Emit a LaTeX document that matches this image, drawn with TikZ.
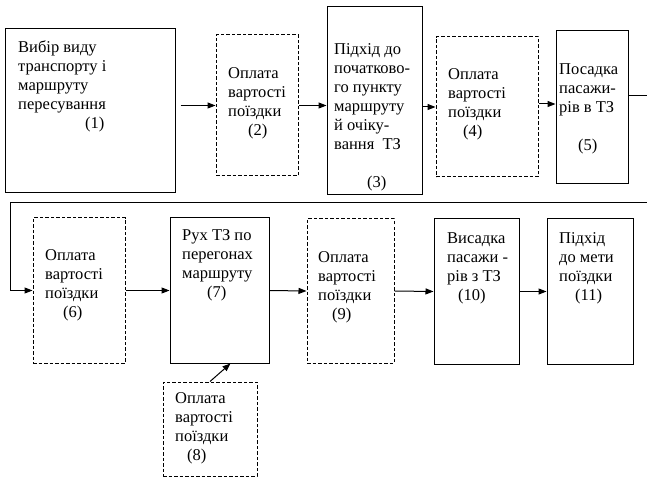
\documentclass[tikz,border=0pt]{standalone}
\usepackage{fontspec}
\setmainfont{Liberation Serif}
\usetikzlibrary{arrows.meta}
\begin{document}
\begin{tikzpicture}[x=1pt,y=-1pt,
  solidbox/.style={draw,line width=1pt,inner sep=0pt},
  dashbox/.style={draw,line width=1pt,dash pattern=on 3.5pt off 2pt,inner sep=0pt},
  txt/.style={anchor=north west,align=left,inner sep=0pt,font=\fontsize{16.5}{19}\selectfont},
  arr/.style={line width=1pt,-{Triangle[length=8pt,width=6pt]}},
  ln/.style={line width=1pt}]
\useasboundingbox (0,0) rectangle (647,478);
% boxes
\node[solidbox,minimum width=170pt,minimum height=164pt] (b1) at (90,111) {};
\node[dashbox,minimum width=82pt,minimum height=141pt] (b2) at (257,105.5) {};
\node[solidbox,minimum width=95pt,minimum height=188pt] (b3) at (374.5,101) {};
\node[dashbox,minimum width=102pt,minimum height=140pt] (b4) at (487,107) {};
\node[solidbox,minimum width=72pt,minimum height=153pt] (b5) at (592,107.5) {};
\node[dashbox,minimum width=92pt,minimum height=145pt] (b6) at (79,290.5) {};
\node[solidbox,minimum width=99pt,minimum height=145pt] (b7) at (219.5,290.5) {};
\node[dashbox,minimum width=87pt,minimum height=144pt] (b9) at (350.5,291) {};
\node[solidbox,minimum width=85pt,minimum height=145pt] (b10) at (476.5,291.5) {};
\node[solidbox,minimum width=86pt,minimum height=145pt] (b11) at (590,291.5) {};
\node[dashbox,minimum width=94pt,minimum height=94pt] (b8) at (210,429) {};
% texts
\node[txt] (t1) at (18,40) {Вибір виду\\транспорту і\\маршруту\\пересування\\\hspace*{67pt}(1)};
\node[txt] (t2) at (228,67) {Оплата\\вартості\\поїздки\\\hspace*{20pt}(2)};
\node[txt] (t3) at (334,43) {Підхід до\\початково-\\го пункту\\маршруту\\й очіку-\\вання~~ТЗ\\[19pt]\hspace*{33pt}(3)};
\node[txt] (t4) at (448,68) {Оплата\\вартості\\поїздки\\\hspace*{15pt}(4)};
\node[txt] (t5) at (559,63) {Посадка\\пасажи-\\рів в ТЗ\\[19pt]\hspace*{19pt}(5)};
\node[txt] (t6) at (45,249) {Оплата\\вартості\\поїздки\\\hspace*{18pt}(6)};
\node[txt] (t7) at (182,229) {Рух ТЗ по\\перегонах\\маршруту\\\hspace*{25pt}(7)};
\node[txt] (t9) at (318,251) {Оплата\\вартості\\поїздки\\\hspace*{14pt}(9)};
\node[txt] (t10) at (447,232) {Висадка\\пасажи -\\рів з ТЗ\\\hspace*{11pt}(10)};
\node[txt] (t11) at (559,232) {Підхід\\до мети\\поїздки\\\hspace*{16pt}(11)};
\node[txt] (t8) at (175,392) {Оплата\\вартості\\поїздки\\\hspace*{12pt}(8)};
% connectors
\coordinate (r1) at (647,96);
\coordinate (r2) at (647,203);
\coordinate (l2) at (10,203);
\draw[arr] ([xshift=5pt]b1.east |- b2.west) -- (b2.west);
\draw[arr] (b2.east) -- (b3.west |- b2.east);
\draw[arr] (b3.east |- b4.west) -- (b4.west);
\draw[arr] ([yshift=3pt]b4.east) -- ([yshift=3pt]b4.east -| b5.west);
\draw[ln] ([yshift=11.5pt]b5.east) -- (r1);
\draw[arr] (r2) -- (l2) |- (b6.west);
\draw[arr] (b6.east) -- (b7.west);
\draw[arr] (b7.east) -- (b9.west);
\draw[arr] (b9.east) -- (b10.west);
\draw[arr] (b10.east) -- (b11.west);
\draw[arr] (b8.north) -- ([xshift=11pt]b7.south);
\end{tikzpicture}
\end{document}
